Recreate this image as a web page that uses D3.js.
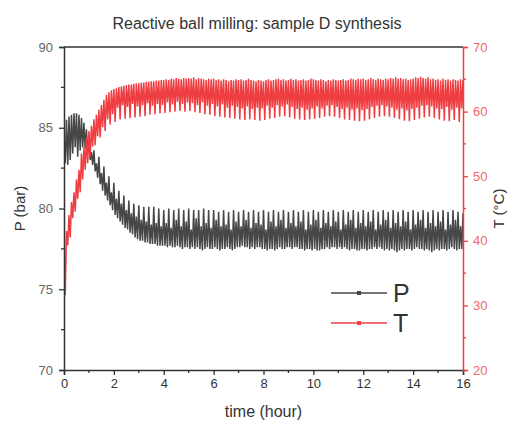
<!DOCTYPE html>
<html>
<head>
<meta charset="utf-8">
<script src="https://cdn.jsdelivr.net/npm/d3@7"></script>
<style>
  body { margin: 0; background: #fff; }
  svg { display: block; font-family: "Liberation Sans", Arial, sans-serif; }
</style>
</head>
<body>
<div id="chart"></div>
<script>
// Sample times (hour), one every 0.1 h
const timeHours = d3.range(0, 161).map(i => +(i * 0.1).toFixed(1));

// Pressure P (bar): upper / lower value of each oscillation cycle
const pressureHigh = [
  84.6, 85.5, 85.7, 85.8, 85.9, 85.9, 85.8, 85.6, 85.3, 84.9,
  84.5, 83.5, 83.6, 82.8, 83.2, 82.2, 82.6, 81.6, 82.0, 81.0,
  81.6, 80.6, 81.1, 80.3, 80.8, 79.9, 80.5, 79.7, 80.3, 79.5,
  80.2, 79.3, 80.1, 79.2, 80.1, 79.0, 80.1, 79.1, 80.0, 78.9,
  79.9, 79.1, 80.0, 78.8, 79.9, 79.3, 80.0, 78.9, 79.9, 79.2,
  80.0, 78.7, 79.9, 79.4, 79.9, 78.9, 80.0, 79.1, 79.9, 78.8,
  79.9, 79.3, 79.8, 78.9, 79.9, 79.0, 79.8, 78.7, 79.9, 79.2,
  79.8, 78.9, 79.9, 79.3, 79.8, 78.8, 79.9, 79.1, 79.8, 79.0,
  79.9, 78.7, 79.8, 79.2, 79.9, 78.9, 79.8, 79.3, 79.9, 78.8,
  79.8, 79.1, 79.9, 78.9, 79.8, 79.2, 79.9, 78.7, 79.8, 79.0,
  79.9, 79.3, 79.8, 78.8, 79.9, 79.1, 79.8, 78.9, 79.9, 79.2,
  79.8, 78.7, 79.9, 79.0, 79.8, 79.3, 79.9, 78.8, 79.8, 79.1,
  79.9, 78.9, 79.8, 79.2, 79.9, 78.7, 79.8, 79.0, 79.9, 79.3,
  79.8, 78.8, 79.9, 79.1, 79.8, 78.9, 79.9, 79.2, 79.8, 78.7,
  79.9, 79.0, 79.8, 79.3, 79.9, 78.8, 79.8, 79.1, 79.9, 78.9,
  79.8, 79.2, 79.9, 78.7, 79.8, 79.0, 79.9, 79.3, 79.8, 78.9,
  79.7
];
const pressureLow = [
  82.8, 82.7, 83.0, 83.4, 83.8, 83.2, 83.6, 83.8, 83.7, 83.4,
  83.0, 82.7, 82.3, 81.9, 81.5, 81.1, 80.8, 80.5, 80.2, 79.9,
  79.6, 79.4, 79.2, 79.0, 78.8, 78.7, 78.5, 78.4, 78.2, 78.1,
  78.0, 78.0, 77.9, 77.9, 77.8, 77.8, 77.8, 77.7, 77.7, 77.7,
  77.7, 77.6, 77.7, 77.6, 77.6, 77.7, 77.6, 77.5, 77.6, 77.6,
  77.5, 77.6, 77.5, 77.6, 77.5, 77.4, 77.5, 77.6, 77.5, 77.5,
  77.6, 77.5, 77.4, 77.5, 77.5, 77.6, 77.5, 77.4, 77.5, 77.6,
  77.6, 77.7, 77.6, 77.6, 77.5, 77.6, 77.5, 77.6, 77.6, 77.5,
  77.5, 77.4, 77.5, 77.5, 77.4, 77.5, 77.6, 77.5, 77.5, 77.6,
  77.6, 77.5, 77.6, 77.6, 77.5, 77.5, 77.4, 77.5, 77.5, 77.4,
  77.5, 77.4, 77.4, 77.5, 77.5, 77.6, 77.5, 77.6, 77.6, 77.5,
  77.6, 77.5, 77.6, 77.5, 77.4, 77.5, 77.5, 77.4, 77.4, 77.5,
  77.5, 77.4, 77.5, 77.5, 77.6, 77.5, 77.6, 77.5, 77.4, 77.5,
  77.4, 77.5, 77.4, 77.3, 77.4, 77.5, 77.4, 77.5, 77.5, 77.4,
  77.5, 77.6, 77.5, 77.5, 77.4, 77.5, 77.4, 77.3, 77.4, 77.5,
  77.4, 77.5, 77.5, 77.4, 77.5, 77.6, 77.5, 77.4, 77.5, 77.5,
  77.6
];

// Temperature T (°C): upper / lower value of each oscillation cycle
const tempHigh = [
  41.0, 41.5, 44.0, 46.0, 47.5, 49.5, 51.0, 53.5, 54.5, 56.0,
  57.0, 57.8, 58.8, 59.5, 60.3, 61.0, 61.8, 62.6, 63.0, 63.3,
  63.5, 63.6, 63.8, 63.9, 64.0, 64.1, 64.2, 64.2, 64.3, 64.4,
  64.4, 64.5, 64.5, 64.6, 64.6, 64.7, 64.7, 64.8, 64.8, 64.9,
  64.9, 65.0, 64.9, 65.1, 65.0, 65.2, 65.1, 65.0, 65.2, 65.1,
  65.2, 65.1, 65.3, 65.0, 65.2, 65.1, 65.0, 64.9, 65.1, 65.0,
  65.1, 64.9, 65.0, 64.8, 65.0, 64.9, 64.7, 64.9, 64.8, 65.0,
  64.9, 65.0, 64.8, 64.9, 65.1, 64.9, 64.8, 64.7, 64.9, 64.8,
  64.7, 64.9, 65.0, 64.8, 64.9, 65.0, 65.1, 64.9, 65.0, 64.8,
  64.9, 65.1, 64.9, 65.0, 64.8, 64.9, 65.0, 64.8, 64.9, 65.1,
  65.0, 64.9, 64.8, 65.0, 64.9, 64.7, 64.9, 64.8, 65.0, 64.9,
  64.8, 64.9, 65.0, 64.8, 64.9, 65.1, 65.0, 64.9, 65.1, 65.0,
  65.1, 64.9, 65.0, 65.2, 65.0, 64.9, 65.1, 65.0, 64.9, 65.1,
  65.0, 65.2, 65.1, 65.3, 65.1, 65.2, 65.0, 65.1, 64.9, 65.0,
  65.1, 65.3, 65.2, 65.4, 65.2, 65.1, 65.3, 65.0, 65.1, 64.9,
  65.0, 64.8, 65.1, 64.9, 65.0, 64.8, 65.0, 64.9, 64.8, 65.0,
  64.9
];
const tempLow = [
  31.6, 39.3, 40.5, 43.5, 44.5, 46.5, 47.5, 49.5, 51.0, 52.0,
  53.0, 54.6, 54.8, 56.2, 56.0, 57.6, 57.0, 58.8, 58.0, 59.6,
  58.4, 60.6, 58.8, 61.0, 58.9, 60.7, 59.0, 61.2, 59.1, 60.8,
  59.2, 61.0, 59.3, 61.3, 59.5, 60.9, 59.6, 61.2, 59.7, 61.0,
  59.8, 61.4, 59.9, 61.1, 60.0, 61.5, 60.1, 61.2, 60.0, 61.4,
  60.1, 61.3, 59.9, 61.0, 59.8, 61.4, 59.6, 60.9, 59.5, 61.2,
  59.3, 60.8, 59.2, 61.1, 59.1, 60.6, 59.0, 60.9, 58.9, 60.7,
  58.8, 60.5, 58.7, 60.8, 58.8, 60.4, 58.7, 60.6, 58.6, 60.5,
  58.7, 60.9, 58.9, 60.6, 59.0, 61.0, 59.2, 60.8, 59.3, 61.1,
  59.1, 60.7, 58.9, 60.4, 58.8, 60.6, 58.7, 60.3, 58.8, 60.5,
  58.9, 60.8, 59.0, 60.5, 59.2, 60.9, 59.3, 61.0, 59.2, 60.7,
  59.0, 60.4, 58.8, 60.6, 58.7, 60.3, 58.6, 60.5, 58.5, 60.2,
  58.6, 60.4, 58.8, 60.7, 59.0, 60.9, 59.2, 61.0, 59.3, 60.8,
  59.2, 60.6, 59.0, 60.3, 58.8, 60.5, 58.6, 60.2, 58.5, 60.4,
  58.7, 60.6, 58.9, 60.9, 59.1, 61.0, 59.2, 60.8, 59.0, 60.5,
  58.8, 60.4, 58.6, 60.7, 58.5, 60.3, 58.7, 60.6, 58.4, 60.5,
  58.6
];

// Axis ticks
const xTicks = [0, 2, 4, 6, 8, 10, 12, 14, 16];
const pTicks = [70, 75, 80, 85, 90];
const tTicks = [20, 30, 40, 50, 60, 70];

const colorP = '#474747';
const colorT = '#ef3e42';

const width = 511, height = 424;
const margin = { left: 64, right: 48, top: 47, bottom: 54 };

const svg = d3.select('#chart').append('svg')
    .attr('width', width)
    .attr('height', height);

const x = d3.scaleLinear().domain([0, 16]).range([margin.left, width - margin.right]);
const yP = d3.scaleLinear().domain([70, 90]).range([height - margin.bottom, margin.top]);
const yT = d3.scaleLinear().domain([20, 70]).range([height - margin.bottom, margin.top]);

svg.append('clipPath').attr('id', 'plotClip')
  .append('rect')
    .attr('x', margin.left)
    .attr('y', margin.top)
    .attr('width', x(16) - x(0))
    .attr('height', yP(70) - yP(90));

// zig-zag through each cycle: high value, then low value half a step later
function cyclePoints(high, low) {
    const pts = [];
    timeHours.forEach((t, i) => {
        pts.push([t, high[i]]);
        pts.push([t + 0.05, low[i]]);
    });
    return pts;
}

const plot = svg.append('g').attr('clip-path', 'url(#plotClip)');

plot.append('path')
    .datum(cyclePoints(pressureHigh, pressureLow))
    .attr('fill', 'none')
    .attr('stroke', colorP)
    .attr('stroke-width', 1.5)
    .attr('d', d3.line().x(d => x(d[0])).y(d => yP(d[1])));

plot.append('path')
    .datum(cyclePoints(tempHigh, tempLow))
    .attr('fill', 'none')
    .attr('stroke', colorT)
    .attr('stroke-width', 1.5)
    .attr('d', d3.line().x(d => x(d[0])).y(d => yT(d[1])));

// Axes
function styleAxis(g, color, labelColor) {
    g.select('.domain').attr('stroke', color).attr('stroke-width', 1.5);
    g.selectAll('.tick line').attr('stroke', color).attr('stroke-width', 1.3);
    g.selectAll('.tick text').attr('fill', labelColor).style('font-size', '13px');
}

// top frame line
svg.append('line')
    .attr('x1', x(0)).attr('x2', x(16))
    .attr('y1', yP(90)).attr('y2', yP(90))
    .attr('stroke', '#333').attr('stroke-width', 1.5);

// minor ticks
const minorX = d3.range(1, 16, 2);
svg.append('g').selectAll('line').data(minorX).join('line')
    .attr('x1', d => x(d)).attr('x2', d => x(d))
    .attr('y1', yP(70)).attr('y2', yP(70) + 3)
    .attr('stroke', '#333').attr('stroke-width', 1.3);
svg.append('g').selectAll('line').data([72.5, 77.5, 82.5, 87.5]).join('line')
    .attr('x1', x(0)).attr('x2', x(0) - 3)
    .attr('y1', d => yP(d)).attr('y2', d => yP(d))
    .attr('stroke', '#333').attr('stroke-width', 1.3);
svg.append('g').selectAll('line').data([25, 35, 45, 55, 65]).join('line')
    .attr('x1', x(16)).attr('x2', x(16) + 3)
    .attr('y1', d => yT(d)).attr('y2', d => yT(d))
    .attr('stroke', colorT).attr('stroke-width', 1.3);

svg.append('g')
    .attr('transform', `translate(0,${yP(70)})`)
    .call(d3.axisBottom(x).tickValues(xTicks).tickSize(5).tickPadding(4).tickFormat(d3.format('d')))
    .call(g => styleAxis(g, '#333', '#333'));

svg.append('g')
    .attr('transform', `translate(${x(0)},0)`)
    .call(d3.axisLeft(yP).tickValues(pTicks).tickSize(5).tickPadding(6).tickFormat(d3.format('d')))
    .call(g => styleAxis(g, '#333', '#666'));

svg.append('g')
    .attr('transform', `translate(${x(16)},0)`)
    .call(d3.axisRight(yT).tickValues(tTicks).tickSize(5).tickPadding(5).tickFormat(d3.format('d')))
    .call(g => styleAxis(g, colorT, '#f0686b'));

// Titles
svg.append('text')
    .attr('x', 257).attr('y', 29)
    .attr('text-anchor', 'middle')
    .style('font-size', '16px')
    .attr('fill', '#333')
    .text('Reactive ball milling: sample D  synthesis');

svg.append('text')
    .attr('x', (x(0) + x(16)) / 2).attr('y', 417)
    .attr('text-anchor', 'middle')
    .style('font-size', '16px')
    .attr('fill', '#333')
    .text('time (hour)');

svg.append('text')
    .attr('transform', `translate(25,${(yP(70) + yP(90)) / 2}) rotate(-90)`)
    .attr('text-anchor', 'middle')
    .style('font-size', '15px')
    .attr('fill', '#333')
    .text('P (bar)');

svg.append('text')
    .attr('transform', `translate(504,${(yT(20) + yT(70)) / 2}) rotate(-90)`)
    .attr('text-anchor', 'middle')
    .style('font-size', '15px')
    .attr('fill', '#333')
    .text('T (°C)');

// Legend
const legendItems = [
    { name: 'P', color: colorP, y: 293 },
    { name: 'T', color: colorT, y: 323 }
];
const legend = svg.append('g').selectAll('g').data(legendItems).join('g');
legend.append('line')
    .attr('x1', 331).attr('x2', 387)
    .attr('y1', d => d.y).attr('y2', d => d.y)
    .attr('stroke', d => d.color).attr('stroke-width', 1.3);
legend.append('rect')
    .attr('x', 357).attr('y', d => d.y - 2)
    .attr('width', 4).attr('height', 4)
    .attr('fill', d => d.color);
legend.append('text')
    .attr('x', 393).attr('y', d => d.y + 9)
    .style('font-size', '25px')
    .attr('fill', '#333')
    .text(d => d.name);
</script>
</body>
</html>
